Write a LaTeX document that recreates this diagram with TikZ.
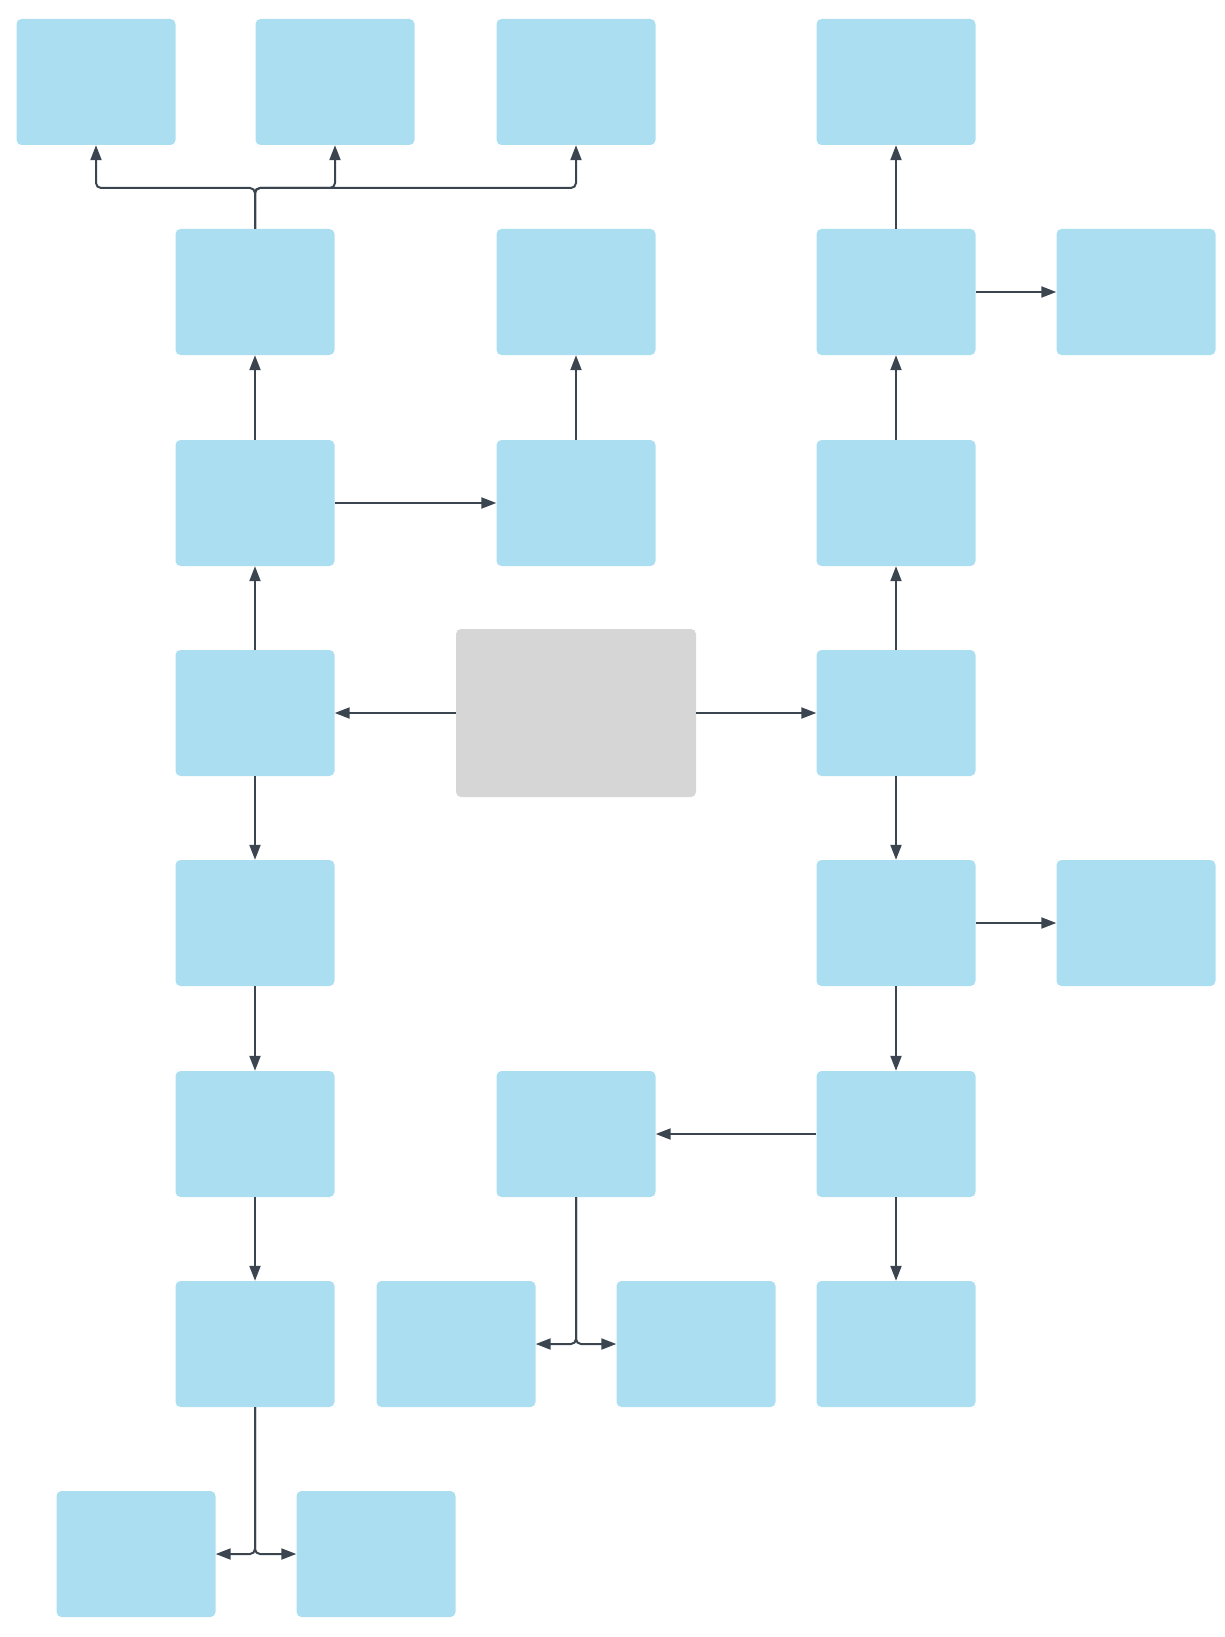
\documentclass[tikz,border=0pt]{standalone}
\usetikzlibrary{shapes,arrows.meta,positioning}
\definecolor{boxblue}{HTML}{ACDEF2}
\definecolor{hubgray}{HTML}{D6D6D6}
\definecolor{linkgray}{HTML}{3B4550}

\begin{document}
\begin{tikzpicture}
				[
					x=1pt, y=1pt,
					bluebox/.style={rectangle, rounded corners=5pt, fill=boxblue, minimum width=159pt, minimum height=126pt, inner sep=0pt},
					hubbox/.style={rectangle, rounded corners=5pt, fill=hubgray, minimum width=240pt, minimum height=168pt, inner sep=0pt},
					link/.style={draw=linkgray, line width=2pt, -{Triangle[length=15pt,width=11pt]}},
					elbow/.style={link, rounded corners=5pt},
				]
				\useasboundingbox (0,0) rectangle (1224,-1637);

				\node [hubbox] (hub) at (576,-713) {};

				\node [bluebox] (top1) at (96,-82) {};
				\node [bluebox] (top2) at (335,-82) {};
				\node [bluebox] (top3) at (576,-82) {};
				\node [bluebox] (right1) at (896,-82) {};

				\node [bluebox] (left2) at (255,-292) {};
				\node [bluebox] (left3) at (255,-503) {};
				\node [bluebox] (left4) at (255,-713) {};
				\node [bluebox] (left5) at (255,-923) {};
				\node [bluebox] (left6) at (255,-1134) {};
				\node [bluebox] (left7) at (255,-1344) {};

				\node [bluebox] (mid2) at (576,-292) {};
				\node [bluebox] (mid3) at (576,-503) {};
				\node [bluebox] (mid6) at (576,-1134) {};

				\node [bluebox] (right2) at (896,-292) {};
				\node [bluebox] (right3) at (896,-503) {};
				\node [bluebox] (right4) at (896,-713) {};
				\node [bluebox] (right5) at (896,-923) {};
				\node [bluebox] (right6) at (896,-1134) {};
				\node [bluebox] (right7) at (896,-1344) {};

				\node [bluebox] (far2) at (1136,-292) {};
				\node [bluebox] (far5) at (1136,-923) {};

				\node [bluebox] (split1) at (456,-1344) {};
				\node [bluebox] (split2) at (696,-1344) {};
				\node [bluebox] (foot1) at (136,-1554) {};
				\node [bluebox] (foot2) at (376,-1554) {};

				\coordinate (fork) at (255,-188);

				\draw[link] (hub.west) -- (left4.east);
				\draw[link] (hub.east) -- (right4.west);

				\draw[link] (left4.north) -- (left3.south);
				\draw[link] (left3.north) -- (left2.south);
				\draw[link] (left3.east) -- (mid3.west);
				\draw[link] (mid3.north) -- (mid2.south);
				\draw[elbow] (left2.north) -- (fork) -| (top1.south);
				\draw[elbow] (left2.north) -- (fork) -| (top2.south);
				\draw[elbow] (left2.north) -- (fork) -| (top3.south);

				\draw[link] (left4.south) -- (left5.north);
				\draw[link] (left5.south) -- (left6.north);
				\draw[link] (left6.south) -- (left7.north);
				\draw[elbow] (left7.south) |- (foot1.east);
				\draw[elbow] (left7.south) |- (foot2.west);

				\draw[link] (right4.north) -- (right3.south);
				\draw[link] (right3.north) -- (right2.south);
				\draw[link] (right2.north) -- (right1.south);
				\draw[link] (right2.east) -- (far2.west);

				\draw[link] (right4.south) -- (right5.north);
				\draw[link] (right5.east) -- (far5.west);
				\draw[link] (right5.south) -- (right6.north);
				\draw[link] (right6.south) -- (right7.north);
				\draw[link] (right6.west) -- (mid6.east);
				\draw[elbow] (mid6.south) |- (split1.east);
				\draw[elbow] (mid6.south) |- (split2.west);

			\end{tikzpicture}
\end{document}
